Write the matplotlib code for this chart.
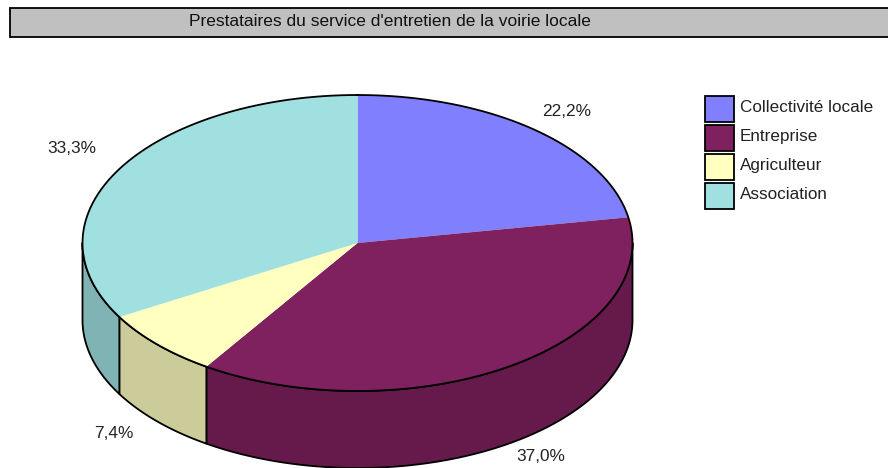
import matplotlib
matplotlib.use('Agg')
import matplotlib.pyplot as plt
import numpy as np
from matplotlib.patches import Rectangle, Polygon

title = "Prestataires du service d'entretien de la voirie locale"
categories = ['Collectivité locale', 'Entreprise', 'Agriculteur', 'Association']
values = [22.2, 37.0, 7.4, 33.3]
value_labels = ['22,2%', '37,0%', '7,4%', '33,3%']
colors = ['#8080ff', '#7f205f', '#ffffc0', '#a0e0e0']
side_colors = ['#6060c0', '#661a4c', '#cccc9a', '#80b3b3']
label_pos = [(567, 111.5), (541, 456.5), (114, 433.5), (72, 148.5)]

cx, cy = 357.5, 243
rx, ry = 275, 148
depth = 77

plt.rcParams['font.family'] = ['Liberation Sans', 'DejaVu Sans']
fig = plt.figure(figsize=(8.88, 4.68), dpi=100)
ax = fig.add_axes([0, 0, 1, 1])
ax.set_xlim(0, 888)
ax.set_ylim(468, 0)
ax.axis('off')


def rim(a0, a1, dy=0):
    # angles clockwise from the top of the pie, in degrees
    t = np.radians(np.linspace(a0, a1, 200))
    return np.column_stack([cx + rx * np.sin(t), cy - ry * np.cos(t) + dy])


# title band
ax.add_patch(Rectangle((10, 7.5), 880, 29, fc='#c0c0c0', ec='black', lw=1.3))
ax.text(390, 21.5, title, ha='center', va='center', fontsize=12.5, color='#111111')

fractions = np.array(values) / sum(values)
edges = np.concatenate([[0], np.cumsum(fractions) * 360])

# side walls, only the part of each slice on the front of the pie
for i in range(len(values)):
    a0 = max(edges[i], 90)
    a1 = min(edges[i + 1], 270)
    if a1 <= a0:
        continue
    top = rim(a0, a1)
    bottom = rim(a0, a1, depth)
    pts = np.vstack([top, bottom[::-1]])
    ax.add_patch(Polygon(pts, closed=True, fc=side_colors[i], ec='black', lw=1.3, joinstyle='round'))

# top faces
for i in range(len(values)):
    pts = np.vstack([[[cx, cy]], rim(edges[i], edges[i + 1])])
    ax.add_patch(Polygon(pts, closed=True, fc=colors[i], ec='none'))
outline = rim(0, 360)
ax.plot(outline[:, 0], outline[:, 1], color='black', lw=1.3)

for (x, y), s in zip(label_pos, value_labels):
    ax.text(x, y, s, ha='center', va='center', fontsize=12.4, color='#222222')

# legend
for i, name in enumerate(categories):
    y = 95.5 + i * 29.3
    ax.add_patch(Rectangle((705, y), 29, 26, fc=colors[i], ec='black', lw=1.3))
    ax.text(740, 107.5 + i * 29, name, ha='left', va='center', fontsize=12.3, color='#222222')

fig.savefig('out.png', dpi=100)
